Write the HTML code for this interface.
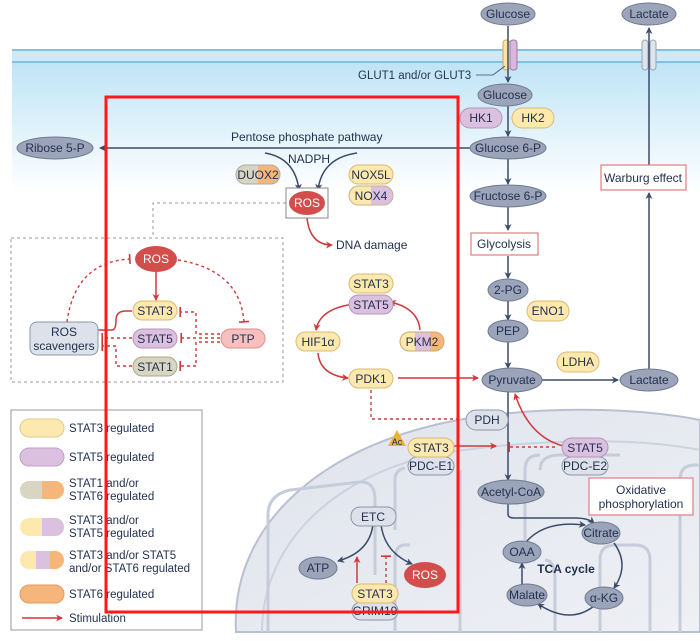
<!DOCTYPE html>
<html><head><meta charset="utf-8"><style>
html,body{margin:0;padding:0;background:#fff}
svg{display:block;font-family:"Liberation Sans",sans-serif}
</style></head><body>
<svg width="700" height="641" viewBox="0 0 700 641" xmlns="http://www.w3.org/2000/svg">
<defs>
<linearGradient id="bg" x1="0" y1="0" x2="0" y2="1">
<stop offset="0" stop-color="#bfe4f6"/><stop offset="1" stop-color="#ffffff"/></linearGradient>
<linearGradient id="mito" x1="0" y1="0" x2="1" y2="1">
<stop offset="0" stop-color="#dfe3ec"/><stop offset="1" stop-color="#eef0f5"/></linearGradient>
<marker id="ad" markerWidth="8" markerHeight="8" refX="6" refY="4" orient="auto" markerUnits="userSpaceOnUse"><path d="M0,0.5 L7,4 L0,7.5 L2,4 z" fill="#3b4c6a"/></marker>
<marker id="ar" markerWidth="8" markerHeight="8" refX="6" refY="4" orient="auto" markerUnits="userSpaceOnUse"><path d="M0,0.5 L7,4 L0,7.5 L2,4 z" fill="#d0393a"/></marker>
<marker id="tr" markerWidth="4" markerHeight="10" refX="2" refY="5" orient="auto" markerUnits="userSpaceOnUse"><rect x="1" y="0" width="1.6" height="10" fill="#d0393a"/></marker>
</defs>

<rect x="12" y="62" width="688" height="130" fill="url(#bg)"/>
<rect x="12" y="49" width="688" height="14" fill="#cfe9f7"/>
<line x1="12" y1="50" x2="700" y2="50" stroke="#7fc2e6" stroke-width="2"/>
<line x1="12" y1="62" x2="700" y2="62" stroke="#7fc2e6" stroke-width="2"/>

<path d="M236,632 C230,520 330,440 470,418 C560,404 650,410 700,420 L700,632 Z" fill="url(#mito)" stroke="#b9c0d0" stroke-width="2"/>
<path d="M262,632 C262,540 340,470 450,452 C560,436 650,440 700,450" fill="none" stroke="#cdd2de" stroke-width="2"/>
<g fill="none" stroke="#c6ccd9" stroke-width="3">
<path d="M268,632 L268,515 Q268,495 290,490 L360,482 Q375,481 375,500 L375,575"/>
<path d="M395,632 L395,560 Q395,545 405,545 L410,545"/>
<path d="M395,530 L395,480 Q395,470 405,468"/>
<path d="M460,632 L460,470"/>
<path d="M525,540 L525,470 Q525,455 540,455"/>
<path d="M555,632 L555,580 Q555,560 545,560"/>
<path d="M600,632 L600,560 Q600,545 615,545 L635,545 Q650,545 650,560 L650,632"/>
<path d="M680,632 L680,480 Q680,465 695,465 L700,465"/>
<path d="M540,470 Q540,455 560,455 L620,455"/>
</g>

<rect x="503" y="40" width="7" height="30" rx="3" fill="#fde3a0" stroke="#c9a95a"/>
<rect x="510" y="40" width="7" height="30" rx="3" fill="#d9b8dc" stroke="#9c7aa3"/>
<rect x="642" y="40" width="6" height="30" rx="3" fill="#dfe3ea" stroke="#9aa3b5"/>
<rect x="650" y="40" width="6" height="30" rx="3" fill="#dfe3ea" stroke="#9aa3b5"/>
<path d="M476,75 L493,75 L505,66" fill="none" stroke="#3b4c6a" stroke-width="0.8"/>
<text x="358" y="79" font-size="11.5" fill="#2a3550">GLUT1 and/or GLUT3</text>

<g stroke="#3b4c6a" stroke-width="1.5" fill="none" marker-end="url(#ad)">
<line x1="508" y1="26" x2="508" y2="82"/>
<line x1="508" y1="106" x2="508" y2="136"/>
<line x1="470" y1="148" x2="100" y2="148"/>
<line x1="508" y1="159" x2="508" y2="184"/>
<line x1="508" y1="207" x2="508" y2="230"/>
<line x1="508" y1="256" x2="508" y2="278"/>
<line x1="508" y1="300" x2="508" y2="320"/>
<line x1="508" y1="342" x2="508" y2="368"/>
<line x1="541" y1="380" x2="618" y2="380"/>
<line x1="649" y1="369" x2="649" y2="193"/>
<line x1="649" y1="165" x2="649" y2="28"/>
<line x1="508" y1="392" x2="508" y2="480"/>
<path d="M508,504 L508,514 Q508,518 514,518 L575,518 Q588,518 594,523"/>
<path d="M526,542 Q545,520 585,525"/>
<path d="M614,543 Q630,565 614,588"/>
<path d="M594,606 Q570,625 538,604"/>
<path d="M522,585 L522,563"/>
<path d="M265,153 Q295,158 299,190"/>
<path d="M357,153 Q322,158 318,190"/>
<path d="M373,524 Q370,552 338,561"/>
<path d="M381,524 Q384,552 412,564"/>
</g>

<rect x="11" y="410" width="191" height="220" fill="#fff" stroke="#9a9a9a"/>

<rect x="11" y="238" width="272" height="144" fill="none" stroke="#999" stroke-dasharray="3,3"/>
<polyline points="286,203 153,203 153,238" fill="none" stroke="#999" stroke-dasharray="3,3"/>

<g stroke="#d0393a" stroke-width="1.5" fill="none">
<path d="M307,218 Q310,245 332,245" marker-end="url(#ar)"/>
<line x1="156" y1="270" x2="156" y2="300" marker-end="url(#ar)"/>
<path d="M98,330 L112,330 Q116,330 116,320 Q116,311 126,311 L132,311"/>
<path d="M355,304 Q320,308 316,330" marker-end="url(#ar)"/>
<path d="M420,330 Q418,308 390,302" marker-end="url(#ar)"/>
<path d="M318,353 Q320,375 348,378" marker-end="url(#ar)"/>
<line x1="398" y1="378" x2="478" y2="378" marker-end="url(#ar)"/>
<path d="M568,447 Q530,440 515,394" marker-end="url(#ar)"/>
<line x1="452" y1="446" x2="496" y2="446" marker-end="url(#ar)"/>
<line x1="357" y1="583" x2="357" y2="557" marker-end="url(#ar)"/>
<line x1="22" y1="618" x2="62" y2="618" marker-end="url(#ar)"/>
</g>
<g stroke="#d0393a" stroke-width="1.4" fill="none" stroke-dasharray="3,3">
<path d="M67,322 Q75,262 130,259" marker-end="url(#tr)"/>
<path d="M178,260 Q240,270 244,322" marker-end="url(#tr)"/>
<polyline points="226,334 196,334 196,312 180,312" marker-end="url(#tr)"/>
<polyline points="226,338 181,338" marker-end="url(#tr)"/>
<polyline points="226,342 196,342 196,366 180,366" marker-end="url(#tr)"/>
<polyline points="132,338 102,338" marker-end="url(#tr)"/>
<polyline points="132,366 116,366 116,346 102,346" marker-end="url(#tr)"/>
<polyline points="371,390 371,419 458,419" marker-end="url(#tr)"/>
<line x1="555" y1="447" x2="509" y2="447" marker-end="url(#tr)"/>
<line x1="386" y1="583" x2="386" y2="556" marker-end="url(#tr)"/>
</g>

<g fill="#9ba4b9" stroke="#6f7a93" stroke-width="1">
<ellipse cx="508" cy="14" rx="27" ry="11"/>
<ellipse cx="649" cy="14" rx="27" ry="11"/>
<ellipse cx="505" cy="95" rx="27" ry="11"/>
<ellipse cx="55" cy="148" rx="38" ry="11"/>
<ellipse cx="508" cy="148" rx="38" ry="11"/>
<ellipse cx="508" cy="196" rx="38" ry="11"/>
<ellipse cx="508" cy="290" rx="20" ry="11"/>
<ellipse cx="508" cy="331" rx="20" ry="11"/>
<ellipse cx="512" cy="380" rx="30" ry="12"/>
<ellipse cx="649" cy="380" rx="29" ry="11"/>
<ellipse cx="511" cy="492" rx="33" ry="12"/>
<ellipse cx="601" cy="533" rx="19" ry="11"/>
<ellipse cx="522" cy="552" rx="19" ry="11"/>
<ellipse cx="527" cy="595" rx="20" ry="11"/>
<ellipse cx="604" cy="598" rx="19" ry="11"/>
<ellipse cx="318" cy="568" rx="19" ry="11"/>
</g>
<g font-size="12" fill="#233150" text-anchor="middle">
<text x="508" y="18">Glucose</text><text x="649" y="18">Lactate</text>
<text x="505" y="99">Glucose</text><text x="55" y="152">Ribose 5-P</text>
<text x="508" y="152">Glucose 6-P</text><text x="508" y="200">Fructose 6-P</text>
<text x="508" y="294">2-PG</text><text x="508" y="335">PEP</text>
<text x="512" y="384">Pyruvate</text><text x="649" y="384">Lactate</text>
<text x="511" y="496">Acetyl-CoA</text><text x="601" y="537">Citrate</text>
<text x="522" y="556">OAA</text><text x="527" y="599">Malate</text>
<text x="604" y="602">α-KG</text><text x="318" y="572">ATP</text>
</g>

<g fill="#dde1ea" stroke="#8c96ab">
<rect x="30" y="322" width="68" height="33" rx="7"/>
<rect x="466" y="410" width="42" height="20" rx="10"/>
<rect x="408" y="457" width="46" height="18" rx="9"/>
<rect x="562" y="457" width="46" height="18" rx="9"/>
<rect x="351" y="507" width="45" height="19" rx="9"/>
<rect x="352" y="602" width="46" height="18" rx="9"/>
</g>

<g stroke="#d9b974" stroke-width="1">
<rect x="460" y="108" width="42" height="20" rx="10" fill="#dcc0e0" stroke="#b595bb"/>
<rect x="512" y="108" width="42" height="20" rx="10" fill="#fde9ad"/>
<rect x="527" y="301" width="42" height="20" rx="10" fill="#fde9ad"/>
<rect x="557" y="352" width="42" height="20" rx="10" fill="#fde9ad"/>
<rect x="133" y="301" width="44" height="19" rx="9.5" fill="#fde9ad"/>
<rect x="133" y="329" width="44" height="19" rx="9.5" fill="#dcc0e0" stroke="#b595bb"/>
<rect x="133" y="357" width="44" height="19" rx="9.5" fill="#d8d6c2" stroke="#aaa78d"/>
<rect x="221" y="329" width="44" height="19" rx="9.5" fill="#f7c0bf" stroke="#e28d8b"/>
<rect x="349" y="165" width="44" height="19" rx="9.5" fill="#fde9ad"/>
<rect x="349" y="274" width="44" height="19" rx="9.5" fill="#fde9ad"/>
<rect x="349" y="295" width="44" height="19" rx="9.5" fill="#dcc0e0" stroke="#b595bb"/>
<rect x="296" y="332" width="44" height="19" rx="9.5" fill="#fde9ad"/>
<rect x="349" y="369" width="44" height="19" rx="9.5" fill="#fde9ad"/>
<rect x="408" y="438" width="46" height="19" rx="9.5" fill="#fde9ad"/>
<rect x="562" y="438" width="46" height="19" rx="9.5" fill="#dcc0e0" stroke="#b595bb"/>
<rect x="352" y="584" width="46" height="19" rx="9.5" fill="#fde9ad"/>
</g>
<g>
<rect x="236" y="165" width="44" height="19" rx="9.5" fill="#d8d6c2"/>
<path d="M258,165 L270.5,165 A9.5,9.5 0 0 1 270.5,184 L258,184 Z" fill="#f6b57a"/>
<rect x="236" y="165" width="44" height="19" rx="9.5" fill="none" stroke="#aaa"/>
<rect x="349" y="186" width="44" height="19" rx="9.5" fill="#fde9ad"/>
<path d="M371,186 L383.5,186 A9.5,9.5 0 0 1 383.5,205 L371,205 Z" fill="#dcc0e0"/>
<rect x="349" y="186" width="44" height="19" rx="9.5" fill="none" stroke="#c9b08c"/>
<rect x="400" y="332" width="44" height="19" rx="9.5" fill="#fde9ad"/>
<rect x="415" y="332" width="15" height="19" fill="#dcc0e0"/>
<path d="M430,332 L434.5,332 A9.5,9.5 0 0 1 434.5,351 L430,351 Z" fill="#f6b57a"/>
<rect x="400" y="332" width="44" height="19" rx="9.5" fill="none" stroke="#c9a870"/>
</g>
<g font-size="12" fill="#233150" text-anchor="middle">
<text x="64" y="336">ROS</text><text x="64" y="350">scavengers</text>
<text x="487" y="424">PDH</text><text x="431" y="470">PDC-E1</text><text x="585" y="470">PDC-E2</text>
<text x="373" y="521">ETC</text><text x="375" y="615">GRIM19</text>
<text x="481" y="122">HK1</text><text x="533" y="122">HK2</text>
<text x="548" y="315">ENO1</text><text x="578" y="366">LDHA</text>
<text x="155" y="315">STAT3</text><text x="155" y="343">STAT5</text><text x="155" y="371">STAT1</text>
<text x="243" y="343">PTP</text>
<text x="258" y="179">DUOX2</text><text x="371" y="179">NOX5L</text><text x="371" y="200">NOX4</text>
<text x="371" y="288">STAT3</text><text x="371" y="309">STAT5</text>
<text x="318" y="346">HIF1α</text><text x="422" y="346">PKM2</text><text x="371" y="383">PDK1</text>
<text x="431" y="452">STAT3</text><text x="585" y="452">STAT5</text><text x="375" y="598">STAT3</text>
</g>

<rect x="286" y="188" width="42" height="30" fill="#fff" stroke="#888"/>
<ellipse cx="307" cy="203" rx="18" ry="12" fill="#d24e4c"/>
<ellipse cx="156" cy="259" rx="21" ry="13" fill="#d24e4c"/>
<ellipse cx="425" cy="575" rx="21" ry="13" fill="#d24e4c"/>
<g font-size="12" fill="#fff" text-anchor="middle">
<text x="307" y="207">ROS</text><text x="156" y="263">ROS</text><text x="425" y="579">ROS</text>
</g>

<polygon points="397,430 388,446 406,446" fill="#e8b33c"/>
<text x="397" y="445" font-size="9" text-anchor="middle" fill="#233150">Ac</text>

<rect x="471" y="233" width="67" height="22" fill="#fff" stroke="#e07e80" stroke-width="1.2"/>
<text x="504" y="248" font-size="12" fill="#233150" text-anchor="middle">Glycolysis</text>
<rect x="601" y="165" width="85" height="25" fill="#fff" stroke="#e07e80" stroke-width="1.2"/>
<text x="643" y="182" font-size="12" fill="#233150" text-anchor="middle">Warburg effect</text>
<rect x="589" y="478" width="104" height="37" fill="#fff" stroke="#e07e80" stroke-width="1.2"/>
<text x="641" y="494" font-size="12" fill="#233150" text-anchor="middle">Oxidative</text>
<text x="641" y="508" font-size="12" fill="#233150" text-anchor="middle">phosphorylation</text>

<g font-size="12" fill="#233150">
<text x="231" y="141">Pentose phosphate pathway</text>
<text x="288" y="163">NADPH</text>
<text x="336" y="249">DNA damage</text>
<text x="566" y="573" font-weight="bold" text-anchor="middle">TCA cycle</text>
</g>

<g stroke-width="1">
<rect x="20" y="419" width="44" height="18" rx="9" fill="#fde9ad" stroke="#e3c98a"/>
<rect x="20" y="448" width="44" height="18" rx="9" fill="#dcc0e0" stroke="#c0a0c5"/>
<rect x="20" y="481" width="44" height="18" rx="9" fill="#d8d6c2"/>
<path d="M42,481 L55,481 A9,9 0 0 1 55,499 L42,499 Z" fill="#f6b57a"/>
<rect x="20" y="518" width="44" height="18" rx="9" fill="#fde9ad"/>
<path d="M42,518 L55,518 A9,9 0 0 1 55,536 L42,536 Z" fill="#dcc0e0"/>
<rect x="20" y="551" width="44" height="18" rx="9" fill="#fde9ad"/>
<rect x="36" y="551" width="14" height="18" fill="#dcc0e0"/>
<path d="M50,551 L55,551 A9,9 0 0 1 55,569 L50,569 Z" fill="#f6b57a"/>
<rect x="20" y="585" width="44" height="18" rx="9" fill="#f6b57a" stroke="#e09a5e"/>
</g>
<g font-size="11.5" fill="#233150">
<text x="69" y="432">STAT3 regulated</text>
<text x="69" y="461">STAT5 regulated</text>
<text x="69" y="487">STAT1 and/or</text><text x="69" y="500">STAT6 regulated</text>
<text x="69" y="524">STAT3 and/or</text><text x="69" y="537">STAT5 regulated</text>
<text x="69" y="559">STAT3 and/or STAT5</text><text x="69" y="572">and/or STAT6 regulated</text>
<text x="69" y="598">STAT6 regulated</text>
<text x="69" y="622">Stimulation</text>
</g>

<rect x="106" y="97" width="352" height="515" fill="none" stroke="#ff1a1a" stroke-width="3"/>
</svg>
</body></html>
